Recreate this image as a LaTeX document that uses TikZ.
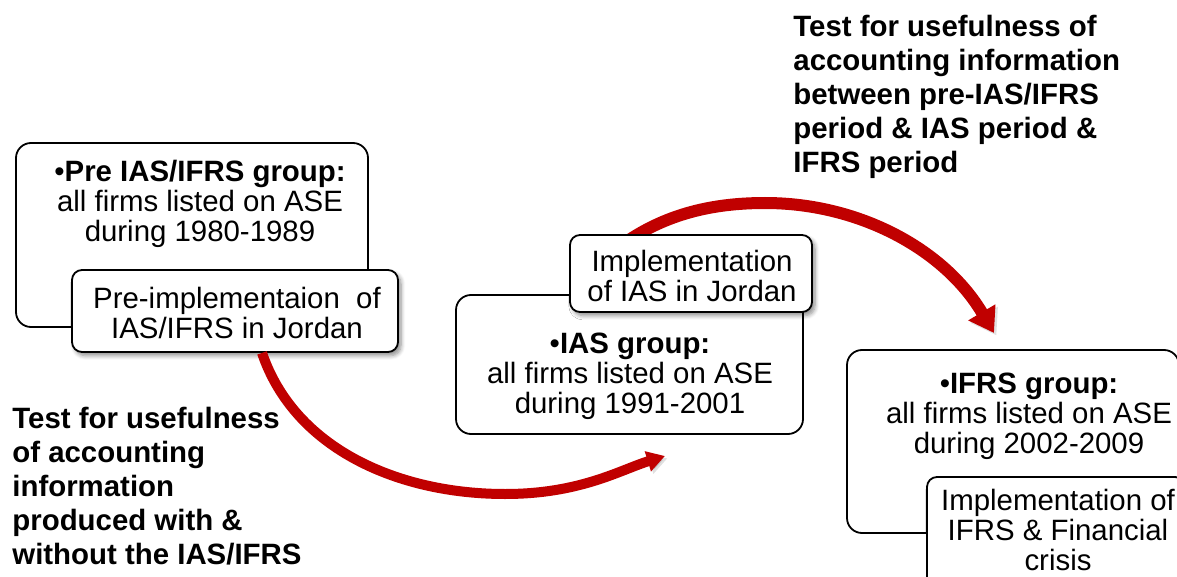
\documentclass[tikz,border=0pt]{standalone}
\usepackage{fontspec}
\setmainfont{Liberation Sans}
\usetikzlibrary{arrows.meta,fit,shadows.blur}
\definecolor{arrowred}{RGB}{192,0,0}
\begin{document}
\begin{tikzpicture}[x=0.5pt,y=-0.5pt,
  groupbox/.style={draw=black, line width=0.9pt, rounded corners=7.5pt, fill=white, inner sep=0pt},
  tagbox/.style={draw=black, line width=0.9pt, rounded corners=5pt, fill=white, inner sep=0pt,
    blur shadow={shadow xshift=1.5pt, shadow yshift=-1.8pt, shadow blur steps=6, shadow opacity=45}},
  bodytext/.style={inner sep=0pt, align=center, anchor=north, font=\fontsize{14.7pt}{14.9pt}\selectfont},
  note/.style={inner sep=0pt, align=left, anchor=north west, font=\bfseries\fontsize{14.7pt}{17pt}\selectfont},
  flow/.style={draw=arrowred, line cap=butt,
    preaction={draw=black, opacity=0.12, transform canvas={shift={(1.2pt,-1.2pt)}}}}
]
\useasboundingbox (0,0) rectangle (1177,577);

% period 1: before IAS/IFRS
\node[groupbox, fit={(16,143) (368,327)}] (pre) {};
\node[bodytext] (preText) at (200,160) {•\textbf{Pre IAS/IFRS group:}\\all firms listed on ASE\\during 1980-1989};
\node[tagbox, fit={(72,270) (398,352)}] (preTag) {};
\node[bodytext] (preTagText) at (237,287) {Pre-implementaion\ \ of\\IAS/IFRS in Jordan};

% curved arrows between the periods
\coordinate (iasIn) at (665,456);
\coordinate (ifrsIn) at (994,333);
\draw[flow, line width=5pt, -{Triangle[length=9pt,width=10pt]}]
  ([xshift=13.5pt]preTag.south) .. controls (295,450) and (400,494) .. (505,494)
  .. controls (580,494) and (620,470) .. (iasIn);

% period 2: IAS
\node[groupbox, fit={(456,295) (803,434)}] (ias) {};
\node[bodytext] (iasText) at (630,333) {•\textbf{IAS group:}\\all firms listed on ASE\\during 1991-2001};

\draw[flow, line width=6pt, -{Triangle[length=12pt,width=15pt]}]
  (615,250) .. controls (660,215) and (710,203) .. (765,203)
  .. controls (860,203) and (945,250) .. (ifrsIn);

\node[tagbox, fit={(570,235) (812,312)}] (iasTag) {};
\node[bodytext] (iasTagText) at (692,250) {Implementation\\of IAS in Jordan};

% period 3: IFRS
\node[groupbox, fit={(847,350) (1179,533)}] (ifrs) {};
\node[bodytext] (ifrsText) at (1029,373) {•\textbf{IFRS group:}\\all firms listed on ASE\\during 2002-2009};
\node[tagbox, fit={(927,477) (1185,592)}] (ifrsTag) {};
\node[bodytext] (ifrsTagText) at (1058,489) {Implementation of\\IFRS \& Financial\\crisis};

% test descriptions
\node[note] (topNote) at (793,15) {Test for usefulness of\\accounting information\\between pre-IAS/IFRS\\period \& IAS period \&\\IFRS period};
\node[note] (bottomNote) at (12,407) {Test for usefulness\\of accounting\\information\\produced with \&\\without the IAS/IFRS};
\end{tikzpicture}
\end{document}
